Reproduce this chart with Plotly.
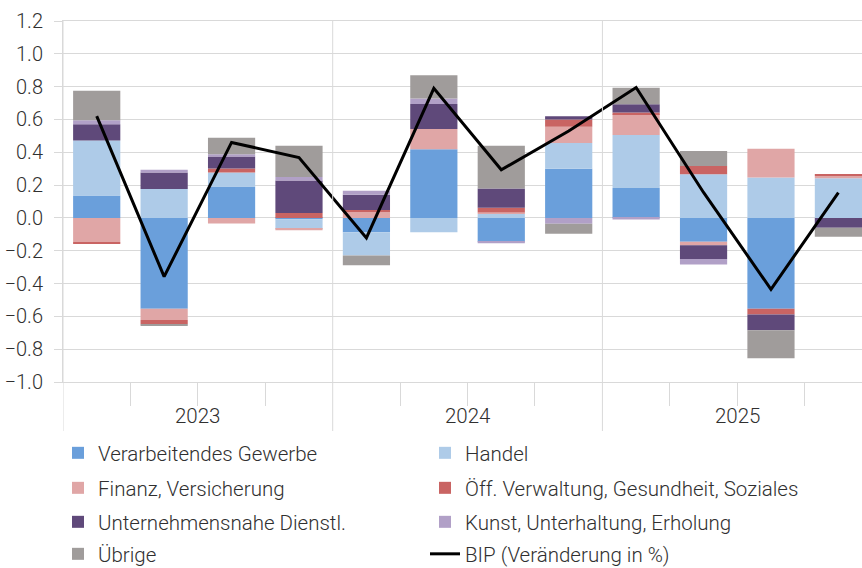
import plotly.graph_objects as go

quarters = ["2023 Q1", "2023 Q2", "2023 Q3", "2023 Q4",
            "2024 Q1", "2024 Q2", "2024 Q3", "2024 Q4",
            "2025 Q1", "2025 Q2", "2025 Q3", "2025 Q4"]
years = ["2023", "2024", "2025"]

verarbeitendes = [0.136, -0.553, 0.192, -0.008, -0.087, 0.419, -0.146, 0.300, 0.182, -0.146, -0.553, 0.0]
handel = [0.336, 0.176, 0.085, -0.059, -0.142, -0.087, 0.024, 0.157, 0.323, 0.266, 0.247, 0.242]
finanz = [-0.148, -0.069, -0.034, -0.008, 0.040, 0.123, 0.010, 0.098, 0.126, -0.020, 0.174, 0.014]
oeff = [-0.010, -0.026, 0.024, 0.030, 0.008, 0.0, 0.028, 0.045, 0.012, 0.051, -0.036, 0.008]
unternehmen = [0.099, 0.101, 0.073, 0.198, 0.093, 0.152, 0.117, 0.020, 0.050, -0.085, -0.095, -0.060]
kunst = [0.024, 0.016, 0.014, 0.022, 0.024, 0.034, -0.008, -0.035, -0.010, -0.033, 0.0, 0.0]
uebrige = [0.180, -0.008, 0.101, 0.190, -0.059, 0.142, 0.261, -0.061, 0.100, 0.091, -0.172, -0.055]
bip = [0.62, -0.358, 0.46, 0.368, -0.122, 0.79, 0.293, 0.53, 0.795, 0.155, -0.435, 0.154]

GRID = "#d9d9d9"
TEXT = "#303030"
FONT = "Roboto, sans-serif"
W, H = 862, 568
PLOT_TOP, PLOT_BOTTOM = 21, 382

series = [
    ("Verarbeitendes Gewerbe", verarbeitendes, "#6a9fdb"),
    ("Handel", handel, "#aecbe8"),
    ("Finanz, Versicherung", finanz, "#e0a6a6"),
    ("Öff. Verwaltung, Gesundheit, Soziales", oeff, "#c96463"),
    ("Unternehmensnahe Dienstl.", unternehmen, "#5f497a"),
    ("Kunst, Unterhaltung, Erholung", kunst, "#b1a0c7"),
    ("Übrige", uebrige, "#a09c9b"),
]

x = list(range(len(quarters)))

fig = go.Figure()
legend_ids = ["legend"] + [f"legend{i}" for i in range(2, 9)]
for i, (name, vals, color) in enumerate(series):
    fig.add_trace(
        go.Bar(
            x=x,
            y=vals,
            name=name,
            marker=dict(color=color, line=dict(width=0)),
            legend=legend_ids[i],
            hovertext=quarters,
        )
    )
fig.add_trace(
    go.Scatter(
        x=x,
        y=bip,
        name="BIP (Veränderung in %)",
        mode="lines",
        line=dict(color="black", width=3),
        legend=legend_ids[7],
        hovertext=quarters,
    )
)

# legend grid: 2 columns x 4 rows, one legend per entry
rows_y = [453, 488, 522, 554]
cols_x = [58, 425]
legend_layout = {}
for i, lid in enumerate(legend_ids):
    r, c = divmod(i, 2)
    legend_layout[lid] = dict(
        x=cols_x[c] / W,
        y=1 - rows_y[r] / H,
        xanchor="left",
        yanchor="middle",
        xref="container",
        yref="container",
        orientation="h",
        bgcolor="rgba(0,0,0,0)",
        font=dict(family=FONT, size=20.5, color=TEXT, weight=300),
    )

# year separators and year labels below the axis
shapes = []
for b in [-0.5, 3.5, 7.5]:
    shapes.append(
        dict(type="line", xref="x", yref="paper", x0=b, x1=b, y0=1,
             y1=(PLOT_BOTTOM - 431) / (PLOT_BOTTOM - PLOT_TOP),
             line=dict(color=GRID, width=1))
    )
annotations = []
for i, yr in enumerate(years):
    annotations.append(
        dict(text=yr, x=1.5 + 4 * i, xref="x", y=(PLOT_BOTTOM - 416) / (PLOT_BOTTOM - PLOT_TOP),
             yref="paper", showarrow=False, yanchor="middle",
             font=dict(family=FONT, size=20.5, color=TEXT, weight=300))
    )

fig.update_layout(
    width=W,
    height=H,
    barmode="relative",
    bargap=0.3,
    plot_bgcolor="white",
    paper_bgcolor="white",
    margin=dict(l=63, r=0, t=PLOT_TOP, b=H - PLOT_BOTTOM, autoexpand=False),
    font=dict(family=FONT, size=20, color=TEXT),
    showlegend=True,
    shapes=shapes,
    annotations=annotations,
    **legend_layout,
)
fig.update_xaxes(
    range=[-0.5, 11.35],
    showgrid=False,
    zeroline=False,
    showline=True,
    linecolor=GRID,
    mirror=True,
    tickvals=[0.5, 1.5, 2.5, 4.5, 5.5, 6.5, 8.5, 9.5, 10.5],
    ticks="outside",
    ticklen=23,
    tickcolor=GRID,
    showticklabels=False,
)
fig.update_yaxes(
    range=[-1.0, 1.2],
    dtick=0.2,
    tickformat=".1f",
    showgrid=True,
    gridcolor=GRID,
    zeroline=True,
    zerolinecolor=GRID,
    zerolinewidth=1,
    showline=True,
    linecolor=GRID,
    ticks="outside",
    ticklen=8,
    ticklabelstandoff=7,
    tickcolor=GRID,
    tickfont=dict(family=FONT, size=20, color=TEXT, weight=300),
)

fig.write_html(
    "out.html",
    config={"displayModeBar": False},
    post_script="document.body.style.margin='0';",
)
